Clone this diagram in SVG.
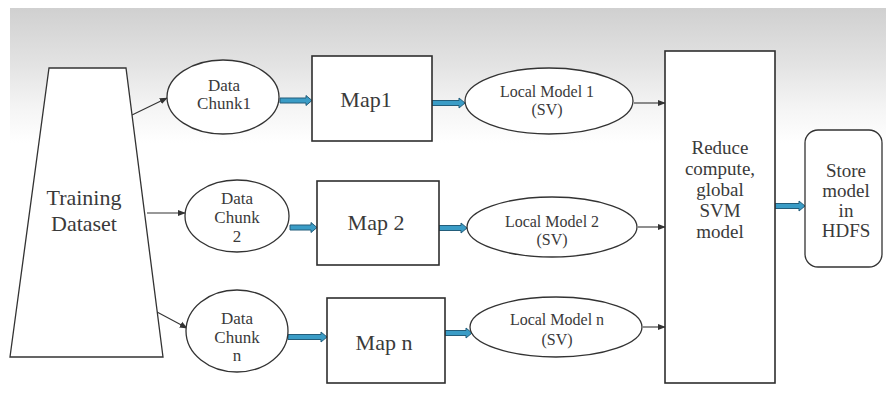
<svg xmlns="http://www.w3.org/2000/svg" width="886" height="394" viewBox="0 0 886 394">
  <defs>
    <linearGradient id="band" x1="0" y1="0" x2="0" y2="1">
      <stop offset="0" stop-color="#d0d0d0"/>
      <stop offset="0.4" stop-color="#e2e2e2"/>
      <stop offset="0.75" stop-color="#f5f5f5"/>
      <stop offset="1" stop-color="#ffffff"/>
    </linearGradient>
    <marker id="tip" viewBox="0 0 10 10" refX="9" refY="5" markerWidth="8" markerHeight="8" markerUnits="userSpaceOnUse" orient="auto">
      <path d="M0,1 L10,5 L0,9 Z" fill="#333"/>
    </marker>
    <style>
      .shape { fill: #ffffff; stroke: #333333; stroke-width: 1.3; }
      .box { fill: #ffffff; stroke: #2e2e2e; stroke-width: 1.6; }
      .thin { stroke: #333333; stroke-width: 1.1; fill: none; marker-end: url(#tip); }
      .blk { fill: #3a9cc6; stroke: #235d7a; stroke-width: 1; }
      .lbl { fill: #3a3a3a; text-anchor: middle; }
      .chunk { font-size: 17px; }
      .local { font-size: 16px; }
      .map { font-size: 22px; }
      .big { font-size: 22px; }
      .side { font-size: 19px; }
    </style>
  </defs>

  <!-- page background with soft grey band along the top -->
  <rect x="0" y="0" width="886" height="394" fill="#ffffff"/>
  <rect x="10" y="8" width="876" height="135" fill="url(#band)"/>

  <!-- connectors -->
  <g id="connectors">
    <line class="thin" x1="132" y1="115" x2="167" y2="98"/>
    <line class="thin" x1="147" y1="213" x2="185" y2="213"/>
    <line class="thin" x1="157" y1="312" x2="187" y2="328"/>
    <line class="thin" x1="634" y1="103" x2="665" y2="103"/>
    <line class="thin" x1="638" y1="227" x2="665" y2="227"/>
    <line class="thin" x1="643" y1="327" x2="665" y2="327"/>
    <!-- block arrows -->
    <polygon class="blk" points="280,98 306,98 306,95.5 312,100.5 306,105.5 306,103 280,103"/>
    <polygon class="blk" points="432,100.5 459,100.5 459,98 465,103 459,108 459,105.5 432,105.5"/>
    <polygon class="blk" points="290,225 311,225 311,222.5 317,227.5 311,232.5 311,230 290,230"/>
    <polygon class="blk" points="439,225.5 461,225.5 461,223 467,228 461,233 461,230.5 439,230.5"/>
    <polygon class="blk" points="288,334.5 321,334.5 321,332 327,337 321,342 321,339.5 288,339.5"/>
    <polygon class="blk" points="445,330.5 466,330.5 466,328 472,333 466,338 466,335.5 445,335.5"/>
    <polygon class="blk" points="775,203.5 799,203.5 799,201 805,206 799,211 799,208.5 775,208.5"/>
  </g>

  <g font-family="'Liberation Serif', 'DejaVu Serif', serif">
    <g id="training-dataset">
      <polygon class="shape" points="49,68 126,68 163,357 10,357"/>
      <text class="lbl big" x="84" y="205">Training</text>
      <text class="lbl big" x="84" y="231">Dataset</text>
    </g>

    <g id="chunk-1">
      <ellipse class="shape" cx="223" cy="97" rx="56" ry="37"/>
      <text class="lbl chunk" x="224" y="91">Data</text>
      <text class="lbl chunk" x="224" y="109">Chunk1</text>
    </g>
    <g id="chunk-2">
      <ellipse class="shape" cx="237" cy="216" rx="52" ry="36"/>
      <text class="lbl chunk" x="237" y="204">Data</text>
      <text class="lbl chunk" x="237" y="223">Chunk</text>
      <text class="lbl chunk" x="237" y="242">2</text>
    </g>
    <g id="chunk-n">
      <ellipse class="shape" cx="237" cy="331" rx="51" ry="41"/>
      <text class="lbl chunk" x="237" y="324">Data</text>
      <text class="lbl chunk" x="237" y="343">Chunk</text>
      <text class="lbl chunk" x="237" y="361">n</text>
    </g>

    <g id="map-1">
      <rect class="box" x="312" y="56" width="120" height="85"/>
      <text class="lbl map" x="366" y="107">Map1</text>
    </g>
    <g id="map-2">
      <rect class="box" x="317" y="181" width="122" height="84"/>
      <text class="lbl map" x="376" y="230">Map 2</text>
    </g>
    <g id="map-n">
      <rect class="box" x="327" y="298" width="118" height="85"/>
      <text class="lbl map" x="384" y="350">Map n</text>
    </g>

    <g id="local-model-1">
      <ellipse class="shape" cx="549" cy="101" rx="84" ry="33"/>
      <text class="lbl local" x="547" y="97">Local Model 1</text>
      <text class="lbl local" x="547" y="115">(SV)</text>
    </g>
    <g id="local-model-2">
      <ellipse class="shape" cx="552" cy="227" rx="85" ry="30"/>
      <text class="lbl local" x="552" y="227">Local Model 2</text>
      <text class="lbl local" x="552" y="245">(SV)</text>
    </g>
    <g id="local-model-n">
      <ellipse class="shape" cx="556" cy="327" rx="86" ry="30"/>
      <text class="lbl local" x="557" y="325">Local Model n</text>
      <text class="lbl local" x="557" y="345">(SV)</text>
    </g>

    <g id="reduce">
      <rect class="box" x="665" y="51" width="110" height="332"/>
      <text class="lbl side" x="720" y="154">Reduce</text>
      <text class="lbl side" x="720" y="175">compute,</text>
      <text class="lbl side" x="720" y="196">global</text>
      <text class="lbl side" x="720" y="217">SVM</text>
      <text class="lbl side" x="720" y="238">model</text>
    </g>

    <g id="store">
      <rect class="shape" x="805" y="130" width="77" height="137" rx="13" ry="13"/>
      <text class="lbl side" x="846" y="177">Store</text>
      <text class="lbl side" x="846" y="197">model</text>
      <text class="lbl side" x="846" y="217">in</text>
      <text class="lbl side" x="846" y="237">HDFS</text>
    </g>
  </g>
</svg>
